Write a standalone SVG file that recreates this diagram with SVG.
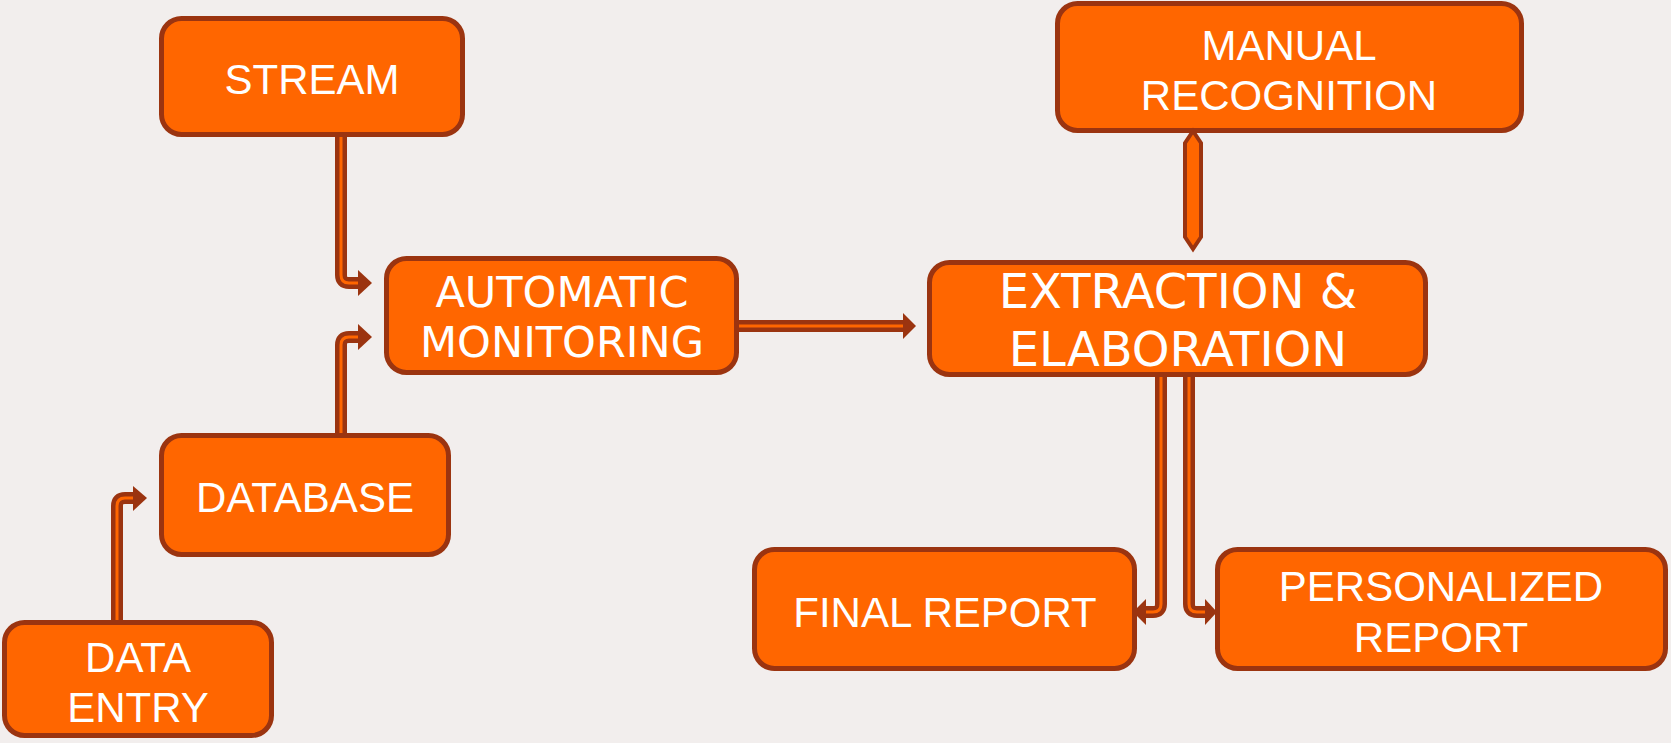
<svg xmlns="http://www.w3.org/2000/svg" width="1671" height="743" viewBox="0 0 1671 743">
  <style>
    .box { fill: #ff6600; stroke: #9b3410; stroke-width: 5; }
    .lbl { fill: #ffffff; font-family: "Liberation Sans", Arial, sans-serif; font-size: 42px; text-anchor: middle; }
    .lbl2 { fill: #ffffff; font-family: "DejaVu Sans", Verdana, sans-serif; font-size: 43px; text-anchor: middle; }
    .lbl3 { fill: #ffffff; font-family: "DejaVu Sans", Verdana, sans-serif; font-size: 48px; text-anchor: middle; }
    .wire-o { fill: none; stroke: #9b3410; stroke-width: 12; }
    .wire-i { fill: none; stroke: #ff6600; stroke-width: 3; }
    .head { fill: #9b3410; }
  </style>
  <rect width="1671" height="743" fill="#f2eeed"/>

  <g id="stream">
    <rect class="box" x="161.5" y="18.5" width="301" height="116" rx="20"/>
    <text class="lbl" x="312" y="94">STREAM</text>
  </g>
  <g id="automatic-monitoring">
    <rect class="box" x="386.5" y="258.5" width="350" height="114" rx="20"/>
    <text class="lbl2" x="562" y="307">AUTOMATIC</text>
    <text class="lbl2" x="562" y="357">MONITORING</text>
  </g>
  <g id="database">
    <rect class="box" x="161.5" y="435.5" width="287" height="119" rx="20"/>
    <text class="lbl" x="305" y="512">DATABASE</text>
  </g>
  <g id="data-entry">
    <rect class="box" x="4.5" y="622.5" width="267" height="113" rx="20"/>
    <text class="lbl" x="138" y="672">DATA</text>
    <text class="lbl" x="138" y="722">ENTRY</text>
  </g>
  <g id="manual-recognition">
    <rect class="box" x="1057.5" y="3.5" width="464" height="127" rx="20"/>
    <text class="lbl" x="1289" y="60">MANUAL</text>
    <text class="lbl" x="1289" y="110">RECOGNITION</text>
  </g>
  <g id="extraction-elaboration">
    <rect class="box" x="929.5" y="262.5" width="496" height="112" rx="20"/>
    <text class="lbl3" x="1178" y="308">EXTRACTION &amp;</text>
    <text class="lbl3" x="1178" y="366">ELABORATION</text>
  </g>
  <g id="final-report">
    <rect class="box" x="754.5" y="549.5" width="380" height="119" rx="20"/>
    <text class="lbl" x="945" y="627">FINAL REPORT</text>
  </g>
  <g id="personalized-report">
    <rect class="box" x="1217.5" y="549.5" width="448" height="119" rx="20"/>
    <text class="lbl" x="1441" y="601">PERSONALIZED</text>
    <text class="lbl" x="1441" y="652">REPORT</text>
  </g>

  <g id="connectors">
    <!-- stream to automatic monitoring -->
    <path class="wire-o" d="M341,137 V275 Q341,283 349,283 H362"/>
    <path class="wire-i" d="M341,137 V275 Q341,283 349,283 H362"/>
    <polygon class="head" points="358,270 372,283 358,296"/>
    <!-- database to automatic monitoring -->
    <path class="wire-o" d="M341,433 V345 Q341,337 349,337 H362"/>
    <path class="wire-i" d="M341,433 V345 Q341,337 349,337 H362"/>
    <polygon class="head" points="358,324 372,337 358,350"/>
    <!-- data entry to database -->
    <path class="wire-o" d="M117,620 V506 Q117,498 125,498 H137"/>
    <path class="wire-i" d="M117,620 V506 Q117,498 125,498 H137"/>
    <polygon class="head" points="133,486 147,498 133,511"/>
    <!-- automatic monitoring to extraction -->
    <path class="wire-o" d="M739,326 H907"/>
    <path class="wire-i" d="M739,326 H907"/>
    <polygon class="head" points="903,313 916,326 903,339"/>
    <!-- extraction to final report -->
    <path class="wire-o" d="M1161,377 V604 Q1161,612 1153,612 H1143"/>
    <path class="wire-i" d="M1161,377 V604 Q1161,612 1153,612 H1143"/>
    <polygon class="head" points="1146,599 1133,612 1146,625"/>
    <!-- extraction to personalized report -->
    <path class="wire-o" d="M1189,377 V604 Q1189,612 1197,612 H1207"/>
    <path class="wire-i" d="M1189,377 V604 Q1189,612 1197,612 H1207"/>
    <polygon class="head" points="1205,599 1217,612 1205,625"/>
    <!-- two-way link between manual recognition and extraction -->
    <polygon points="1193,131 1201,143 1201,237 1193,249 1185,237 1185,143" fill="#ff6600" stroke="#9b3410" stroke-width="4"/>
  </g>
</svg>
